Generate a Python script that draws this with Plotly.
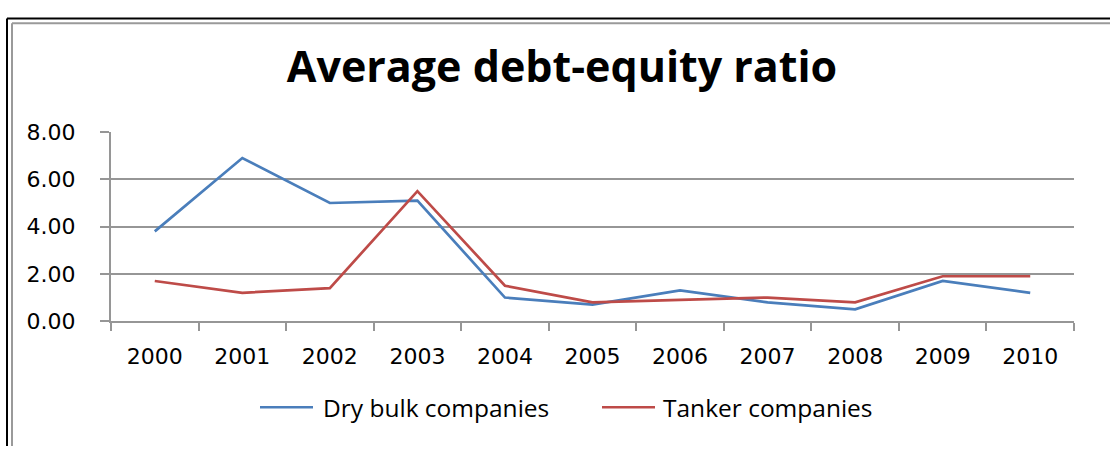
import plotly.graph_objects as go

# Average debt-equity ratio by year, 2000-2010
years = ["2000", "2001", "2002", "2003", "2004", "2005",
         "2006", "2007", "2008", "2009", "2010"]
dry_bulk = [3.8, 6.9, 5.0, 5.1, 1.0, 0.7, 1.3, 0.8, 0.5, 1.7, 1.2]
tanker = [1.7, 1.2, 1.4, 5.5, 1.5, 0.8, 0.9, 1.0, 0.8, 1.9, 1.9]
series_names = ["Dry bulk companies", "Tanker companies"]
series_colors = ["#4A7EBB", "#BE4B48"]

W, H = 1110, 459
GRAY = "#969696"


def px(x):
    return x / W


def py(y):
    return 1 - y / H


fig = go.Figure()
for name, vals, col in zip(series_names, [dry_bulk, tanker], series_colors):
    fig.add_trace(go.Scatter(x=years, y=vals, mode="lines", name=name,
                             line=dict(color=col, width=2.7),
                             showlegend=False))

tick_font = dict(family="DejaVu Sans", size=22, color="black")
text_font = dict(family="Open Sans", size=24.5, color="black")

shapes = [
    # outer double frame
    dict(type="line", xref="paper", yref="paper", x0=px(7), x1=1, y0=py(7), y1=py(7),
         line=dict(color="black", width=2)),
    dict(type="line", xref="paper", yref="paper", x0=px(7), x1=px(7), y0=py(7), y1=0,
         line=dict(color="black", width=2)),
    dict(type="line", xref="paper", yref="paper", x0=px(12), x1=1, y0=py(12), y1=py(12),
         line=dict(color="#9A9A9A", width=2)),
    dict(type="line", xref="paper", yref="paper", x0=px(12), x1=px(12), y0=py(12), y1=0,
         line=dict(color="#9A9A9A", width=2)),
]

# legend keys
legend_items = [(260, 313, 321), (602, 655, 661)]
annotations = []
for (lx0, lx1, tx), name, col in zip(legend_items, series_names, series_colors):
    shapes.append(dict(type="line", xref="paper", yref="paper",
                       x0=px(lx0), x1=px(lx1), y0=py(418), y1=py(418),
                       line=dict(color=col, width=2.7)))
    annotations.append(dict(text=name, xref="paper", yref="paper", x=px(tx), y=py(418),
                            xanchor="left", yanchor="middle", showarrow=False,
                            font=text_font))

fig.update_layout(
    width=W, height=H,
    margin=dict(l=0, r=0, t=0, b=0),
    paper_bgcolor="white", plot_bgcolor="white",
    title=dict(text="<b>Average debt-equity ratio</b>",
               x=px(562), xanchor="center", y=py(67), yanchor="middle",
               font=dict(family="Open Sans", size=43, color="black")),
    xaxis=dict(domain=[px(111), px(1074)], type="category",
               range=[-0.5, 10.5], showgrid=False, zeroline=False,
               showline=True, linecolor=GRAY, linewidth=2,
               ticks="outside", tickson="boundaries", ticklen=8,
               tickcolor=GRAY, tickwidth=2, tickfont=tick_font,
               ticklabelstandoff=14),
    yaxis=dict(domain=[py(327), py(127)], range=[0, 8], dtick=2,
               tickformat=".2f", showgrid=True, gridcolor=GRAY, gridwidth=2,
               zeroline=False, showline=True, linecolor=GRAY, linewidth=2,
               ticks="outside", ticklen=9, tickcolor=GRAY, tickwidth=2,
               tickfont=tick_font, ticklabelstandoff=20),
    shapes=shapes,
    annotations=annotations,
)

fig.write_html("out.html")
